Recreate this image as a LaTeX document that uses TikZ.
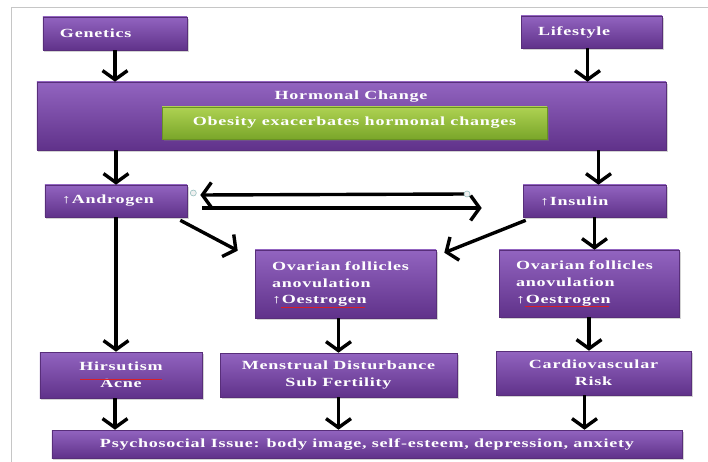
\documentclass[tikz,border=0pt]{standalone}
\usepackage{fontspec}
\setmainfont{Liberation Serif}[FakeStretch=1.45,LetterSpace=6]
\usetikzlibrary{arrows.meta,shadows}

\definecolor{vioTop}{RGB}{146,100,192}
\definecolor{vioBot}{RGB}{96,50,138}
\definecolor{vioEdge}{RGB}{88,46,122}
\definecolor{limeTop}{RGB}{174,210,82}
\definecolor{limeBot}{RGB}{122,166,42}
\definecolor{limeEdge}{RGB}{106,146,36}
\definecolor{handle}{RGB}{150,190,190}
\definecolor{spellred}{RGB}{215,30,40}

\begin{document}
\begin{tikzpicture}[x=1bp,y=-1bp,
  vbox/.style={draw=vioEdge, line width=0.6bp, top color=vioTop, bottom color=vioBot,
    text=white, font=\fontsize{12.5}{17}\selectfont\bfseries, inner sep=0pt,
    drop shadow={shadow xshift=1.5bp,shadow yshift=-2bp,opacity=0.35}},
  vleft/.style={vbox, align=left, inner xsep=17bp},
  gbox/.style={vbox, draw=limeEdge, top color=limeTop, bottom color=limeBot},
  arr/.style={line width=3.4bp, -{Straight Barb[length=9bp,width=25bp]}},
  spell/.style={spellred, line width=1.1bp},
  knob/.style={circle, draw=handle, fill=gray!12, line width=0.6bp, inner sep=0pt, minimum size=6bp}]
\useasboundingbox (0,0) rectangle (708,462);
% frame
\draw[gray!45, line width=1bp] (11,462) -- (11,8) -- (708,8);

% top row
\node[vleft, text width=110bp, minimum height=33bp] (gen) at (115,33.5) {Genetics};
\node[vleft, text width=107bp, minimum height=32bp] (life) at (591.5,32) {Lifestyle};

\node[vbox, minimum width=629bp, minimum height=68bp] (horm) at (351.5,116) {};
\node[text=white, font=\fontsize{12.5}{14}\selectfont\bfseries] (hormlbl) at (351,97) {Hormonal Change};
\node[gbox, minimum width=385bp, minimum height=32bp] (obes) at (354.5,123) {Obesity exacerbates hormonal changes};

% middle row
\node[vleft, text width=108bp, minimum height=32bp] (andr) at (116,201) {↑Androgen};
\node[vleft, text width=109bp, minimum height=32bp] (ins) at (594.5,201) {↑Insulin};
\node[vleft, text width=147bp, minimum height=68bp] (ovA) at (345.5,284) {\mbox{Ovarian follicles}\\anovulation\\↑Oestrogen};
\node[vleft, text width=146bp, minimum height=67bp] (ovB) at (589,283.5) {\mbox{Ovarian follicles}\\anovulation\\↑Oestrogen};

% outcomes
\node[vbox, align=center, minimum width=162bp, minimum height=46bp] (hir) at (121,375) {Hirsutism\\Acne};
\node[vbox, align=center, minimum width=237bp, minimum height=44bp] (men) at (338.5,375) {Menstrual Disturbance\\Sub Fertility};
\node[vbox, align=center, minimum width=195bp, minimum height=44bp] (card) at (593.5,373) {Cardiovascular\\Risk};
\node[vbox, minimum width=630bp, minimum height=28bp] (psy) at (367,444) {Psychosocial Issue: body image, self-esteem, depression, anxiety};

% spell-check marks
\draw[spell] ([xshift=26bp,yshift=-23.5bp]ovA.west) -- ++(84,0);
\draw[spell] ([xshift=26bp,yshift=-23bp]ovB.west) -- ++(84,0);
\draw[spell] ([xshift=-41bp,yshift=-4.5bp]hir.center) -- ++(82,0);

% arrows
\draw[arr] (gen.south) -- (gen.south |- horm.north);
\draw[arr] ([xshift=-4bp]life.south) -- ([xshift=-4bp]life.south |- horm.north);
\draw[arr] (andr.north |- horm.south) -- (andr.north);
\draw[arr] ([xshift=4bp]ins.north |- horm.south) -- ([xshift=4bp]ins.north);
\draw[arr] (ins.south) -- (ins.south |- ovB.north);
\draw[arr] (andr.south) -- (andr.south |- hir.north);
\draw[arr] (ovA.south -| men.north) -- (men.north);
\draw[arr] (ovB.south) -- (ovB.south |- card.north);
\draw[arr] ([xshift=-6bp]hir.south) -- ([xshift=-6bp]hir.south |- psy.north);
\draw[arr] (men.south) -- (men.south |- psy.north);
\draw[arr] ([xshift=-9bp]card.south) -- ([xshift=-9bp]card.south |- psy.north);
\draw[arr] ([xshift=-7bp,yshift=-3bp]andr.south east) -- ([xshift=-17bp,yshift=-1bp]ovA.north west);
\draw[arr] ([xshift=3bp,yshift=-3bp]ins.south west) -- ([xshift=8bp,yshift=-3bp]ovA.north east);

% double link between androgen and insulin
\coordinate (linkR) at (467,194);
\draw[arr] (linkR) -- ([xshift=13bp,yshift=6bp]andr.east);
\draw[arr] ([xshift=15bp,yshift=-7bp]andr.east) -- ([xshift=-41bp,yshift=-7bp]ins.west);
\node[knob] (knobL) at ([xshift=6bp,yshift=8bp]andr.east) {};
\node[knob] (knobR) at (linkR) {};
\end{tikzpicture}
\end{document}
